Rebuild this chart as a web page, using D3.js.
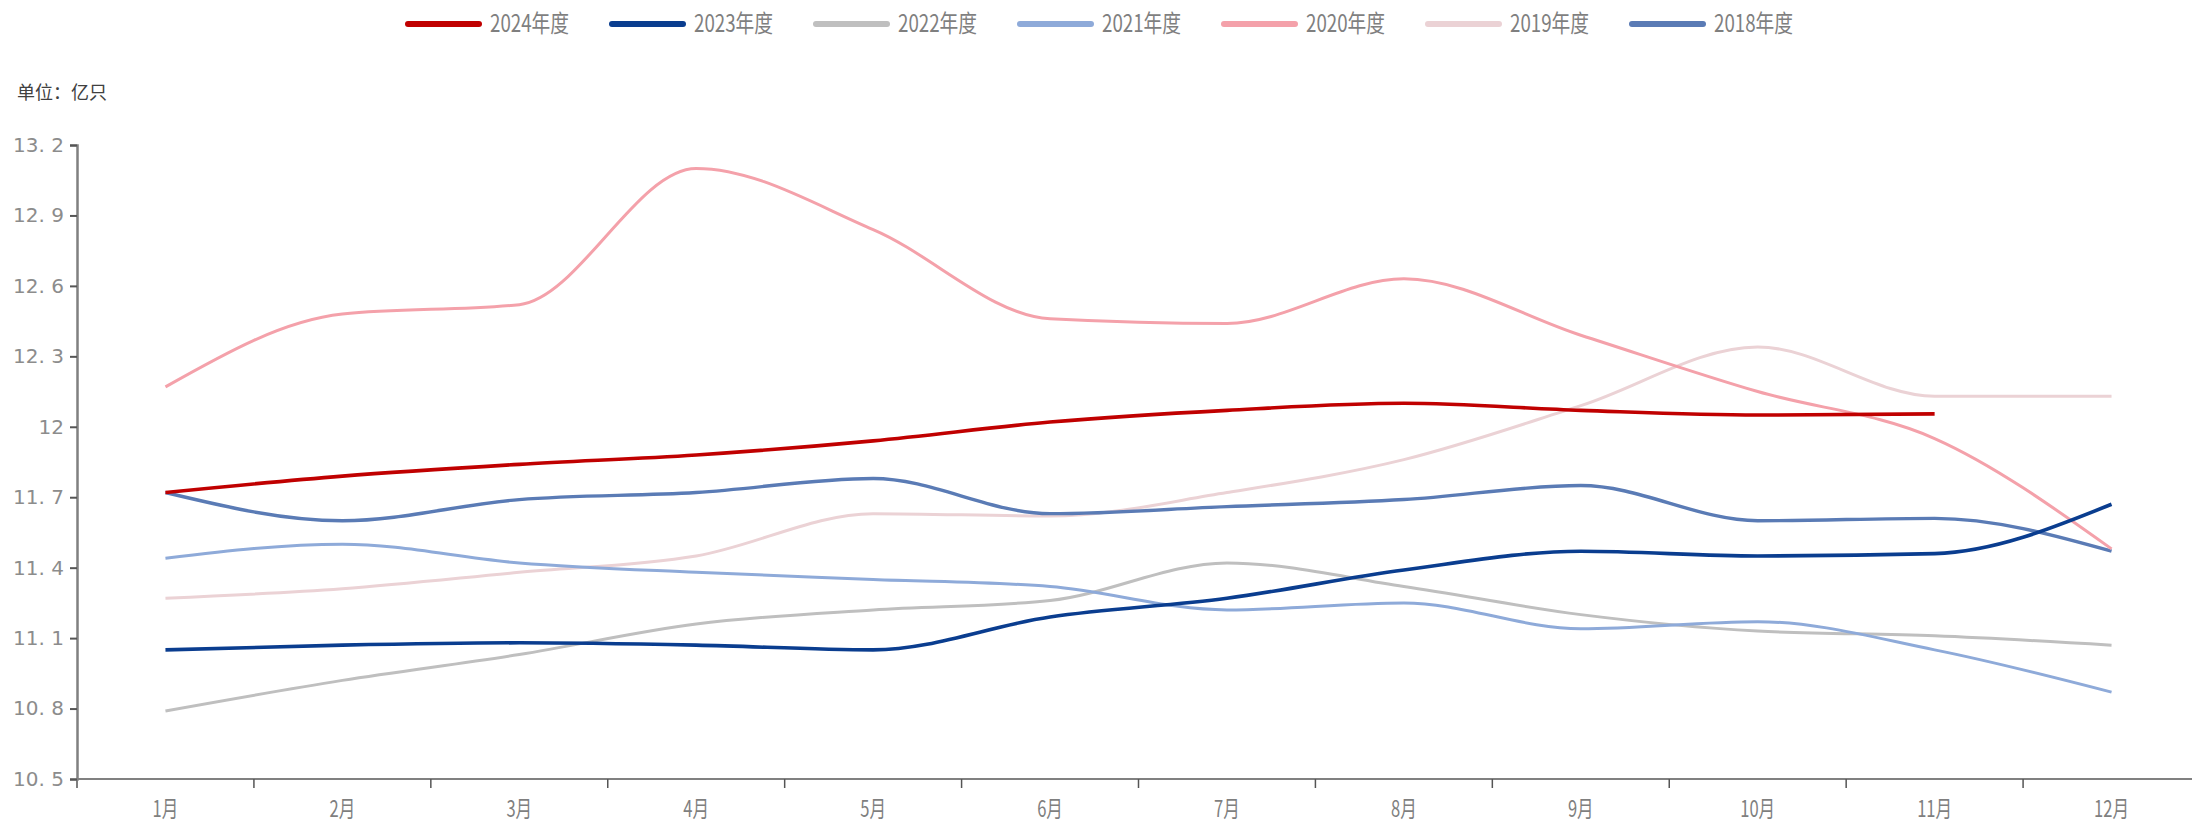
<!doctype html>
<html>
<head>
<meta charset="utf-8">
<script src="https://d3js.org/d3.v7.min.js"></script>
<style>
  body { margin: 0; background: #fff; }
  text { font-family: "Noto Sans CJK SC", sans-serif; }
</style>
</head>
<body>
<svg width="2192" height="828"></svg>
<script>
// months on the x axis
var months = ["1月","2月","3月","4月","5月","6月","7月","8月","9月","10月","11月","12月"];
var yTicks = [10.5, 10.8, 11.1, 11.4, 11.7, 12, 12.3, 12.6, 12.9, 13.2];

// series values (亿只)
var y2024 = [11.72, 11.79, 11.84, 11.88, 11.94, 12.02, 12.07, 12.10, 12.07, 12.05, 12.055];
var y2023 = [11.05, 11.07, 11.08, 11.07, 11.05, 11.19, 11.27, 11.39, 11.47, 11.45, 11.46, 11.67];
var y2022 = [10.79, 10.92, 11.03, 11.16, 11.22, 11.26, 11.42, 11.32, 11.20, 11.13, 11.11, 11.07];
var y2021 = [11.44, 11.50, 11.42, 11.38, 11.35, 11.32, 11.22, 11.25, 11.14, 11.17, 11.05, 10.87];
var y2020 = [12.17, 12.48, 12.52, 13.10, 12.84, 12.46, 12.44, 12.63, 12.39, 12.15, 11.95, 11.48];
var y2019 = [11.27, 11.31, 11.38, 11.45, 11.63, 11.62, 11.72, 11.86, 12.09, 12.34, 12.13, 12.13];
var y2018 = [11.72, 11.60, 11.69, 11.72, 11.78, 11.63, 11.66, 11.69, 11.75, 11.60, 11.61, 11.47];

var seriesNames = ["2024年度","2023年度","2022年度","2021年度","2020年度","2019年度","2018年度"];
var seriesData = [y2024, y2023, y2022, y2021, y2020, y2019, y2018];
var colors = ["#c00000","#0a3d8f","#bfbfbf","#8eaad9","#f4a1aa","#ebd2d5","#5a7bb5"];
var widths = [3.6, 3.6, 3, 3, 3, 3, 3.4];

var svg = d3.select("svg");
var mLeft = 77, mRight = 2200, mTop = 145, mBottom = 779;

var x = d3.scaleBand().domain(months).range([mLeft, mRight]);
var y = d3.scaleLinear().domain([10.5, 13.2]).range([mBottom, mTop]);

// x axis: ticks at band edges, labels at centres (narrow lettering)
var xg = svg.append("g").attr("transform", "translate(0," + mBottom + ")");
xg.append("line").attr("x1", mLeft).attr("x2", 2192).attr("stroke", "#808080").attr("stroke-width", 2);
xg.selectAll(".tk").data(months).enter().append("line")
  .attr("x1", function(d){ return x(d); }).attr("x2", function(d){ return x(d); })
  .attr("y1", 0).attr("y2", 9).attr("stroke", "#555").attr("stroke-width", 1.5);
xg.selectAll(".lb").data(months).enter().append("text")
  .attr("transform", function(d){ return "translate(" + (x(d) + x.bandwidth() / 2) + ",38) scale(0.72,1)"; })
  .attr("text-anchor", "middle")
  .attr("font-size", 23)
  .attr("fill", "#7f7f7f")
  .text(function(d){ return d; });

// y axis
var yAxis = svg.append("g")
  .attr("transform", "translate(" + mLeft + ",0)")
  .call(d3.axisLeft(y).tickValues(yTicks).tickSize(7).tickPadding(6)
    .tickFormat(function(d){ return d === 12 ? "12" : d.toFixed(1).replace(".", ". "); }));
yAxis.select(".domain").attr("stroke", "#808080").attr("stroke-width", 2.5);
yAxis.selectAll(".tick line").attr("stroke", "#555").attr("stroke-width", 2);
yAxis.selectAll(".tick text")
  .attr("font-size", 20)
  .attr("fill", "#8c8c8c")
  .style("font-family", "'DejaVu Sans', sans-serif")
  .style("white-space", "pre");

svg.append("text").attr("x", 17).attr("y", 99)
  .attr("font-size", 18).attr("fill", "#404040")
  .text("单位：亿只");

// lines
var line = d3.line()
  .defined(function(d){ return d != null; })
  .x(function(d, i){ return x(months[i]) + x.bandwidth() / 2; })
  .y(function(d){ return y(d); })
  .curve(d3.curveMonotoneX);

var order = [5, 2, 3, 6, 4, 1, 0]; // draw light lines first
order.forEach(function(k){
  svg.append("path")
    .datum(seriesData[k])
    .attr("fill", "none")
    .attr("stroke", colors[k])
    .attr("stroke-width", widths[k])
    .attr("d", line);
});

// legend
var lg = svg.append("g").attr("transform", "translate(405,24)");
seriesNames.forEach(function(name, i){
  var g = lg.append("g").attr("transform", "translate(" + (i * 204) + ",0)");
  g.append("line").attr("x1", 3).attr("x2", 74).attr("y1", 0).attr("y2", 0)
    .attr("stroke", colors[i]).attr("stroke-width", 6).attr("stroke-linecap", "round");
  g.append("text").attr("transform", "translate(85,8) scale(0.78,1)")
    .attr("font-size", 24).attr("fill", "#7f7f7f").text(name);
});
</script>
</body>
</html>
